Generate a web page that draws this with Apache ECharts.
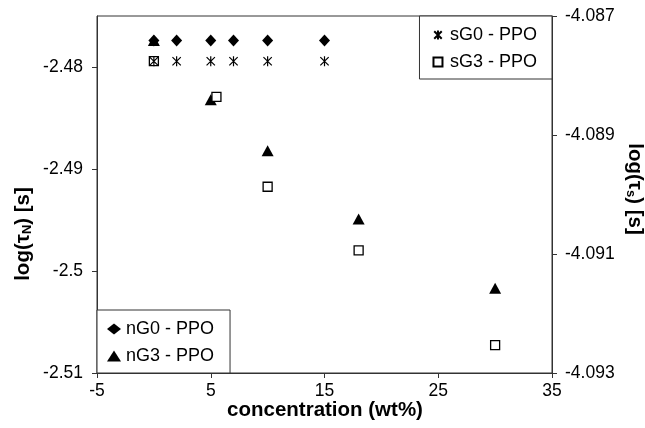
<!DOCTYPE html>
<html lang="en">
<head>
    <meta charset="UTF-8">
    <title>log tau vs concentration</title>
    <script src="https://cdn.jsdelivr.net/npm/echarts@6.0.0/dist/echarts.min.js"></script>
    <style>
        html, body { margin: 0; padding: 0; background: #fff; }
        #main { width: 645px; height: 428px; }
    </style>
</head>
<body>
<div id="main"></div>
<script>
    // values
    var concN0 = [0, 2, 5, 7, 10, 15];
    var tauN0 = [-2.4774, -2.4774, -2.4774, -2.4774, -2.4774, -2.4774];
    var concN3 = [0, 5, 10, 18, 30];
    var tauN3 = [-2.4774, -2.4832, -2.4882, -2.4949, -2.5017];
    var concS0 = [0, 2, 5, 7, 10, 15];
    var tauS0 = [-4.08776, -4.08776, -4.08776, -4.08776, -4.08776, -4.08776];
    var concS3 = [0, 5.5, 10, 18, 30];
    var tauS3 = [-4.08776, -4.08836, -4.08987, -4.09094, -4.09253];

    // tick labels
    var xTicks = [-5, 5, 15, 25, 35];
    var yLeftTicks = [-2.51, -2.5, -2.49, -2.48];
    var yRightTicks = [-4.093, -4.091, -4.089, -4.087];

    function pairs(xs, ys) {
        return xs.map(function (x, i) { return [x, ys[i]]; });
    }

    var font = 'Liberation Sans, Arial, sans-serif';
    var asterisk = 'path://M0,0L10,10M10,0L0,10M5,-1L5,11';
    var box = 'path://M0,0L10,0L10,10L0,10Z';

    var myChart = echarts.init(document.getElementById('main'));

    var option = {
        animation: false,
        backgroundColor: '#fff',
        grid: {
            left: 97, right: 93, top: 16, bottom: 55,
            show: true, borderColor: '#333', borderWidth: 1
        },
        xAxis: {
            type: 'value', min: -5, max: 35,
            axisLine: { show: true, onZero: false, lineStyle: { color: '#333' } },
            axisTick: { show: true, customValues: xTicks, length: 5, lineStyle: { color: '#333' } },
            axisLabel: { customValues: xTicks, margin: 9, color: '#000', fontSize: 17.5, fontFamily: font },
            splitLine: { show: false }
        },
        yAxis: [{
            type: 'value', min: -2.51, max: -2.475, position: 'left',
            axisLine: { show: true, onZero: false, lineStyle: { color: '#333' } },
            axisTick: { show: true, customValues: yLeftTicks, length: 5, lineStyle: { color: '#333' } },
            axisLabel: {
                customValues: yLeftTicks, margin: 14, color: '#000', fontSize: 17.5, fontFamily: font,
                formatter: function (v) { return String(+v.toFixed(3)); }
            },
            splitLine: { show: false }
        }, {
            type: 'value', min: -4.093, max: -4.087, position: 'right',
            axisLine: { show: true, onZero: false, lineStyle: { color: '#333' } },
            axisTick: { show: true, customValues: yRightTicks, length: 5, lineStyle: { color: '#333' } },
            axisLabel: {
                customValues: yRightTicks, margin: 13, color: '#000', fontSize: 17.5, fontFamily: font,
                formatter: function (v) { return v.toFixed(3); }
            },
            splitLine: { show: false }
        }],
        legend: [{
            data: [{ name: 'sG0 - PPO' }, { name: 'sG3 - PPO', icon: box }],
            orient: 'vertical', right: 93, top: 16,
            backgroundColor: '#fff', borderColor: '#333', borderWidth: 1,
            padding: [10, 15, 8, 13], itemGap: 9, itemWidth: 14, itemHeight: 9,
            textStyle: { fontSize: 18, fontFamily: font, color: '#000' }
        }, {
            data: ['nG0 - PPO', 'nG3 - PPO'],
            orient: 'vertical', left: 97, bottom: 55,
            backgroundColor: '#fff', borderColor: '#333', borderWidth: 1,
            padding: [10, 16, 8, 10], itemGap: 9, itemWidth: 14, itemHeight: 11,
            textStyle: { fontSize: 18, fontFamily: font, color: '#000' }
        }],
        series: [{
            name: 'nG0 - PPO', type: 'scatter', yAxisIndex: 0,
            symbol: 'diamond', symbolSize: [11, 12],
            itemStyle: { color: '#000', opacity: 1 },
            data: pairs(concN0, tauN0)
        }, {
            name: 'nG3 - PPO', type: 'scatter', yAxisIndex: 0,
            symbol: 'triangle', symbolSize: [12, 11],
            itemStyle: { color: '#000', opacity: 1 },
            data: pairs(concN3, tauN3)
        }, {
            name: 'sG3 - PPO', type: 'scatter', yAxisIndex: 1,
            symbol: 'rect', symbolSize: 9,
            itemStyle: { color: '#fff', borderColor: '#000', borderWidth: 1.3, opacity: 1 },
            data: pairs(concS3, tauS3)
        }, {
            name: 'sG0 - PPO', type: 'scatter', yAxisIndex: 1,
            symbol: asterisk, symbolSize: 10, symbolKeepAspect: true,
            itemStyle: { color: 'rgba(0,0,0,0)', borderColor: '#000', borderWidth: 1.2, opacity: 1 },
            data: pairs(concS0, tauS0)
        }],
        graphic: [{
            type: 'text', x: 325, y: 410,
            style: {
                text: 'concentration (wt%)', align: 'center', verticalAlign: 'middle',
                font: 'bold 20.5px ' + font, fill: '#000'
            }
        }, {
            type: 'text', x: 23, y: 234, rotation: Math.PI / 2,
            style: {
                text: '{a|log(τ}{b|N}{a|) [s]}', align: 'center', verticalAlign: 'middle',
                rich: {
                    a: { font: 'bold 20.5px ' + font, fill: '#000' },
                    b: { font: 'bold 13px ' + font, fill: '#000', padding: [9, 0, 0, 0] }
                }
            }
        }, {
            type: 'text', x: 635, y: 189, rotation: -Math.PI / 2,
            style: {
                text: '{a|log(τ}{b|s}{a|) [s]}', align: 'center', verticalAlign: 'middle',
                rich: {
                    a: { font: 'bold 20.5px ' + font, fill: '#000' },
                    b: { font: 'bold 13px ' + font, fill: '#000', padding: [9, 0, 0, 0] }
                }
            }
        }]
    };

    myChart.setOption(option);
</script>
</body>
</html>
